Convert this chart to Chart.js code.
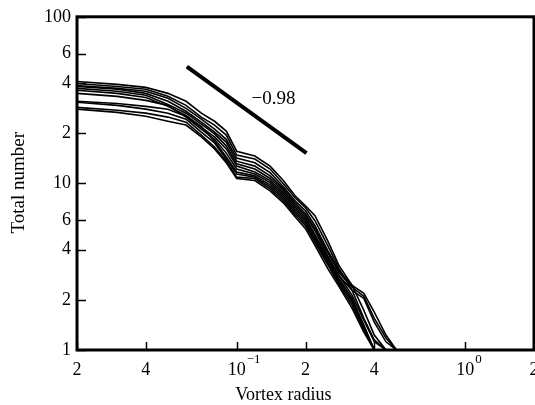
<!DOCTYPE html>
<html lang="en">
<head>
<meta charset="UTF-8">
<title>Total number vs vortex radius</title>
<script src="https://cdn.jsdelivr.net/npm/chart.js"></script>
<style>
  html, body { margin: 0; padding: 0; background: #fff; }
  #box { width: 535px; height: 405px; }
</style>
</head>
<body>
<div id="box"><canvas id="myChart"></canvas></div>
<script>
// vortex radius (x) shared by all runs
const radius = [0.02, 0.03, 0.04, 0.05, 0.06, 0.07, 0.08, 0.09, 0.1, 0.12, 0.14, 0.16, 0.18, 0.2, 0.22, 0.25, 0.28, 0.32, 0.36, 0.4, 0.45, 0.5];

// cumulative number of vortices, one array per run (null = run has ended)
const runA = [40.9, 39.3, 37.7, 34.7, 31.1, 26.4, 23.6, 20.6, 15.6, 14.6, 12.7, 10.4, 8.43, 7.34, 6.40, 4.53, 3.22, 2.44, 1.73, 1.23, 1, null];
const runB = [39.8, 38.2, 36.7, 33.3, 29.4, 25.0, 22.4, 19.5, 14.8, 14.0, 12.2, 9.94, 8.20, 7.14, 5.97, 4.24, 3.09, 2.28, 1.55, 1.15, 1, null];
const runC = [38.7, 37.2, 35.7, 32.4, 28.2, 24.3, 21.2, 18.4, 14.2, 13.3, 11.6, 9.54, 7.87, 6.85, 5.57, 3.96, 3.00, 2.44, 2.19, 1.69, 1.23, 1];
const runD = [38.2, 36.7, 34.7, 31.1, 27.1, 23.3, 20.3, 17.7, 13.6, 12.7, 11.1, 9.28, 7.65, 6.58, 5.35, 3.85, 2.92, 2.38, 2.10, 1.55, 1.18, 1];
const runE = [37.2, 35.7, 33.8, 29.8, 26.4, 22.7, 19.8, 16.8, 13.1, 12.2, 10.7, 9.03, 7.45, 6.40, 5.20, 3.69, 2.80, 2.13, 1.51, 1.12, 1, null];
const runF = [36.2, 34.7, 32.8, 29.0, 25.6, 21.7, 19.0, 16.1, 12.7, 11.7, 10.4, 8.78, 7.24, 6.23, 4.92, 3.59, 2.80, 2.28, 2.04, 1.47, 1.12, 1];
const runG = [34.7, 33.3, 31.5, 29.4, 25.0, 21.2, 18.4, 15.2, 12.2, 11.4, 10.1, 8.54, 7.05, 6.06, 4.79, 3.54, 2.69, 2.04, 1.41, 1, null, null];
const runH = [31.1, 30.2, 29.0, 27.9, 25.3, 22.0, 17.9, 14.4, 11.7, 11.1, 9.80, 8.31, 6.85, 5.89, 4.66, 3.45, 2.62, 1.99, 1.35, 1, null, null];
const runI = [30.7, 29.4, 27.9, 26.4, 24.3, 20.3, 17.5, 14.0, 11.4, 10.9, 9.54, 8.09, 6.67, 5.73, 4.53, 3.35, 2.55, 1.93, 1.39, 1, null, null];
const runJ = [28.6, 27.5, 26.4, 25.0, 23.3, 19.5, 16.5, 13.6, 10.9, 10.7, 9.28, 7.87, 6.49, 5.57, 4.41, 3.26, 2.48, 1.86, 1.32, 1, null, null];
const runK = [27.9, 26.7, 25.3, 23.6, 22.4, 19.0, 16.1, 13.3, 10.7, 10.4, 9.03, 7.65, 6.31, 5.35, 4.24, 3.09, 2.41, 1.78, 1.28, 1, null, null];
const runs = [runA, runB, runC, runD, runE, runF, runG, runH, runI, runJ, runK];

// reference power-law segment, slope -0.98
const slopeX = [0.0605, 0.202];
const slopeY = [50.3, 15.2];
const slopeLabel = '\u22120.98';
const slopeLabelX = 0.116;
const slopeLabelY = 31.9;

// axis ticks
const xTicks = [0.02, 0.04, 0.1, 0.2, 0.4, 1, 2];
const xTickLabels = ['2', '4', '10^\u22121', '2', '4', '10^0', '2'];
const yTicks = [1, 2, 4, 6, 10, 20, 40, 60, 100];
const yTickLabels = ['1', '2', '4', '6', '10', '2', '4', '6', '100'];
const xTitle = 'Vortex radius';
const yTitle = 'Total number';

const serif = '"Liberation Serif", "Times New Roman", serif';

const datasets = runs.map(run => ({
    data: radius.map((r, i) => ({ x: r, y: run[i] })),
    borderColor: '#000',
    borderWidth: 1.6,
    pointRadius: 0,
    tension: 0,
    spanGaps: false
}));
datasets.push({
    data: slopeX.map((r, i) => ({ x: r, y: slopeY[i] })),
    borderColor: '#000',
    borderWidth: 4,
    pointRadius: 0
});

// frame, inward ticks, x labels with exponents, titles, slope label
const extras = {
    id: 'extras',
    afterDatasetsDraw(chart) {
        const { ctx, chartArea: a, scales: { x, y } } = chart;
        ctx.save();
        ctx.strokeStyle = '#000';
        ctx.lineWidth = 3;
        ctx.strokeRect(a.left, a.top, a.right - a.left, a.bottom - a.top);

        ctx.lineWidth = 1.5;
        ctx.beginPath();
        yTicks.forEach(v => {
            const py = Math.round(y.getPixelForValue(v)) + 0.5;
            ctx.moveTo(a.left, py);
            ctx.lineTo(a.left + 9, py);
        });
        xTicks.forEach(v => {
            const px = Math.round(x.getPixelForValue(v)) + 0.5;
            ctx.moveTo(px, a.bottom);
            ctx.lineTo(px, a.bottom - 8);
        });
        ctx.stroke();

        ctx.fillStyle = '#000';
        ctx.textBaseline = 'middle';
        xTicks.forEach((v, i) => {
            const px = x.getPixelForValue(v);
            const parts = xTickLabels[i].split('^');
            ctx.font = '18px ' + serif;
            ctx.textAlign = 'center';
            ctx.fillText(parts[0], px, a.bottom + 20);
            if (parts[1]) {
                const w = ctx.measureText(parts[0]).width;
                ctx.font = '13px ' + serif;
                ctx.textAlign = 'left';
                ctx.fillText(parts[1], px + w / 2 + 1, a.bottom + 10);
            }
        });

        // axis titles
        ctx.font = '18px ' + serif;
        ctx.textAlign = 'center';
        ctx.fillText(xTitle, x.getPixelForValue(0.16), a.bottom + 45);
        ctx.save();
        ctx.translate(19, y.getPixelForValue(10.1));
        ctx.rotate(-Math.PI / 2);
        ctx.font = '19px ' + serif;
        ctx.fillText(yTitle, 0, 0);
        ctx.restore();

        ctx.font = '19px ' + serif;
        ctx.textAlign = 'left';
        ctx.fillText(slopeLabel, x.getPixelForValue(slopeLabelX), y.getPixelForValue(slopeLabelY));
        ctx.restore();
    }
};

new Chart(document.getElementById('myChart'), {
    type: 'line',
    data: { datasets },
    options: {
        responsive: true,
        maintainAspectRatio: false,
        animation: false,
        layout: { padding: { top: 15, right: 1, left: 0, bottom: 0 } },
        plugins: { legend: { display: false }, tooltip: { enabled: false } },
        scales: {
            x: {
                type: 'logarithmic',
                min: 0.02,
                max: 2,
                grid: { display: false },
                border: { display: false },
                ticks: { display: false },
                afterBuildTicks: s => { s.ticks = xTicks.map(v => ({ value: v })); },
                afterFit: s => { s.height = 55; }
            },
            y: {
                type: 'logarithmic',
                min: 1,
                max: 100,
                grid: { display: false, drawTicks: false },
                border: { display: false },
                afterBuildTicks: s => { s.ticks = yTicks.map(v => ({ value: v })); },
                afterFit: s => { s.width = 77; },
                ticks: {
                    color: '#000',
                    padding: 6,
                    autoSkip: false,
                    font: { family: serif, size: 18 },
                    callback: (v, i) => yTickLabels[i]
                }
            }
        }
    },
    plugins: [extras]
});
</script>
</body>
</html>
